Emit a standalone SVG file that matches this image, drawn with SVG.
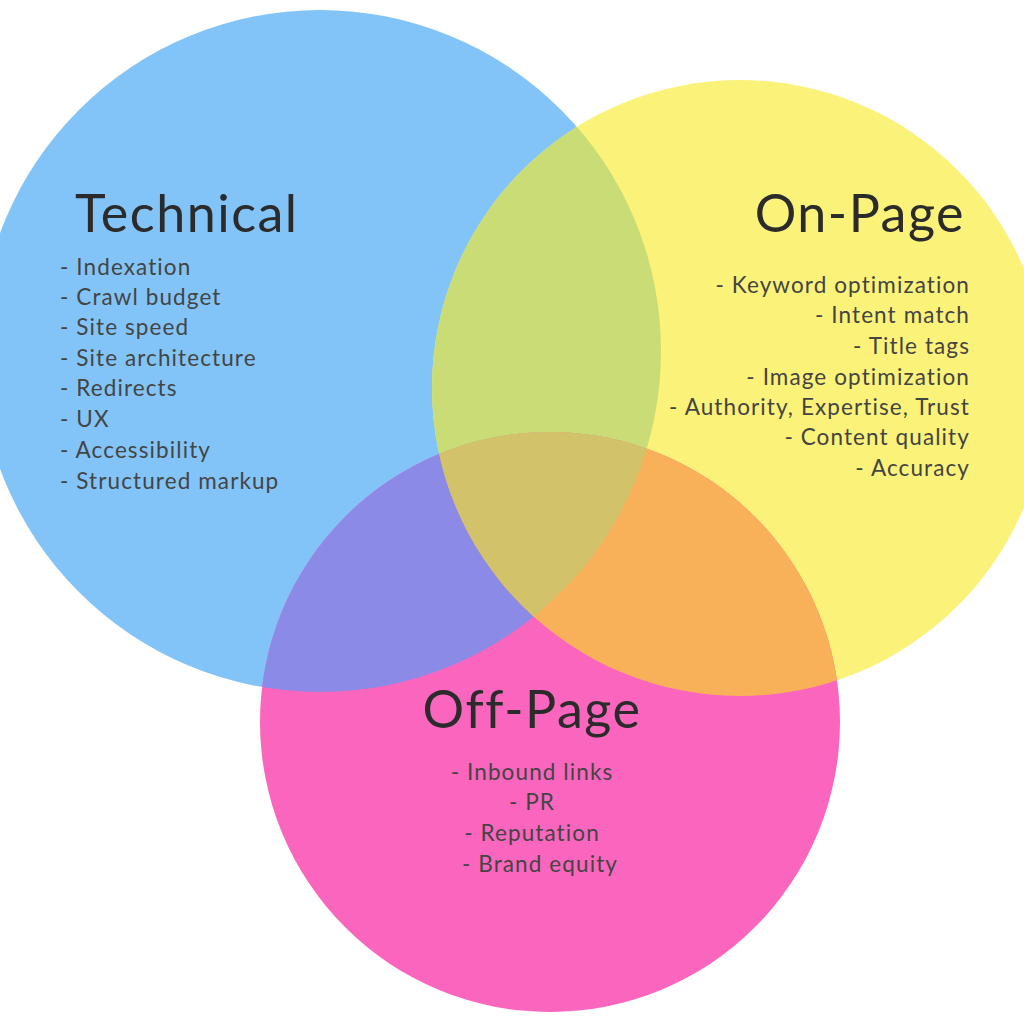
<svg xmlns="http://www.w3.org/2000/svg" width="1024" height="1024" viewBox="0 0 1024 1024">
<style>
.t{font-family:Lato,"Open Sans",sans-serif;font-size:52px;letter-spacing:1.5px;fill:#2b2b2b}
.i{font-family:Lato,"Open Sans",sans-serif;font-size:22.5px;letter-spacing:1.1px;fill:#444}
</style>
<defs>
<clipPath id="cb"><circle cx="320" cy="351" r="341"/></clipPath>
<clipPath id="cy"><circle cx="740" cy="388" r="308"/></clipPath>
<clipPath id="cp"><circle cx="550" cy="722" r="290"/></clipPath>
</defs>
<rect width="1024" height="1024" fill="#fff"/>
<g id="circles">
<circle cx="320" cy="351" r="341" fill="#82C4F8"/>
<circle cx="740" cy="388" r="308" fill="#FBF27A"/>
<circle cx="550" cy="722" r="290" fill="#FA66BE"/>
<circle cx="740" cy="388" r="308" fill="#C9DC76" clip-path="url(#cb)"/>
<circle cx="550" cy="722" r="290" fill="#8B8AE6" clip-path="url(#cb)"/>
<circle cx="550" cy="722" r="290" fill="#F9B159" clip-path="url(#cy)"/>
<g clip-path="url(#cb)"><circle cx="550" cy="722" r="290" fill="#D2C36A" clip-path="url(#cy)"/></g>
</g>
<g id="technical">
<text class="t" x="75" y="232">Technical</text>
<text class="i" x="60" y="275">- Indexation</text>
<text class="i" x="60" y="305">- Crawl budget</text>
<text class="i" x="60" y="335">- Site speed</text>
<text class="i" x="60" y="366">- Site architecture</text>
<text class="i" x="60" y="396">- Redirects</text>
<text class="i" x="60" y="427">- UX</text>
<text class="i" x="60" y="458">- Accessibility</text>
<text class="i" x="60" y="489">- Structured markup</text>
</g>
<g id="onpage" text-anchor="end">
<text class="t" x="965" y="232">On-Page</text>
<text class="i" x="970" y="293">- Keyword optimization</text>
<text class="i" x="970" y="323">- Intent match</text>
<text class="i" x="970" y="354">- Title tags</text>
<text class="i" x="970" y="385">- Image optimization</text>
<text class="i" x="970" y="415">- Authority, Expertise, Trust</text>
<text class="i" x="970" y="445">- Content quality</text>
<text class="i" x="970" y="476">- Accuracy</text>
</g>
<g id="offpage" text-anchor="middle">
<text class="t" x="532" y="728">Off-Page</text>
<text class="i" x="532" y="780">- Inbound links</text>
<text class="i" x="532" y="810">- PR</text>
<text class="i" x="532" y="841">- Reputation</text>
<text class="i" x="540" y="872">- Brand equity</text>
</g>
</svg>
